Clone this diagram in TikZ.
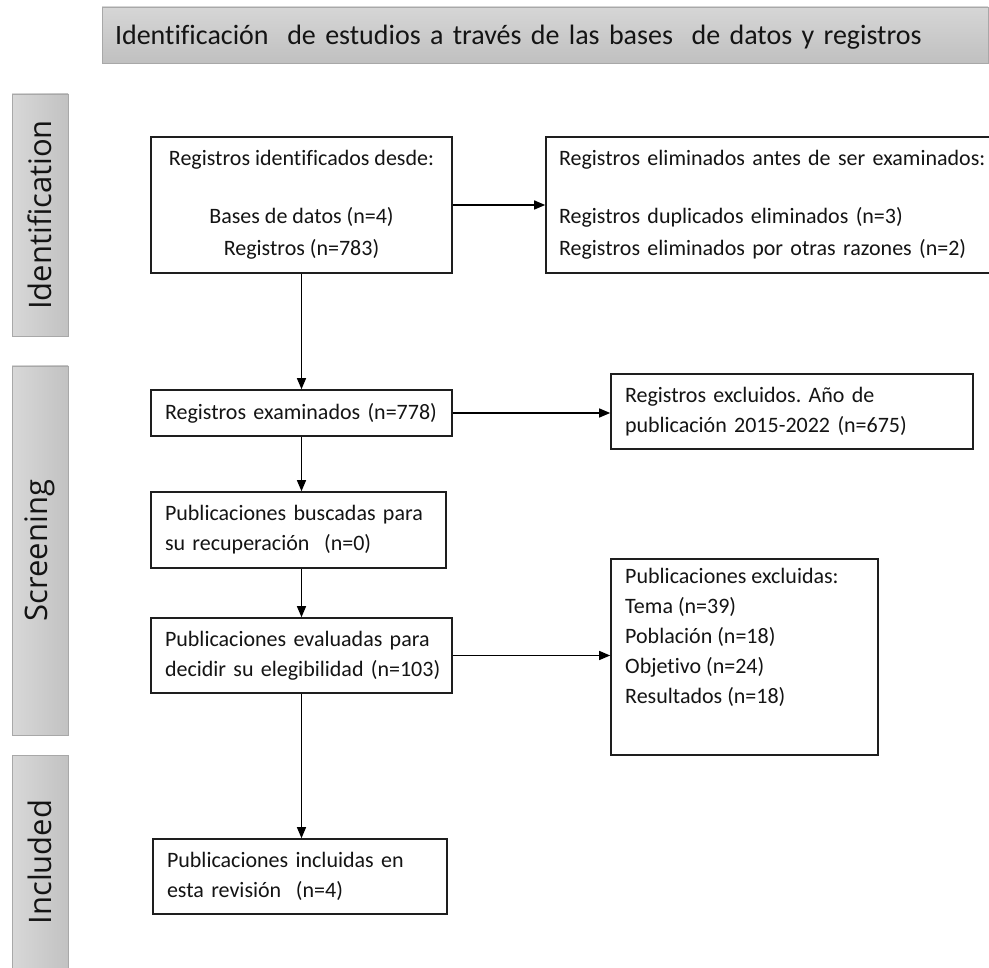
\documentclass[tikz,border=0pt]{standalone}
\usepackage{fontspec}
\setmainfont{Carlito}[Ligatures={NoCommon,TeX}]
\newfontfamily\barfont{Open Sans}
\usetikzlibrary{arrows.meta,calc}
\frenchspacing
\definecolor{boxline}{HTML}{1E1E1E}
\definecolor{txt}{HTML}{141414}
\definecolor{barline}{HTML}{A8A8A8}
\definecolor{barL}{HTML}{D8D8D8}
\definecolor{barR}{HTML}{C2C2C2}
\definecolor{banT}{HTML}{D6D6D6}
\definecolor{banB}{HTML}{C0C0C0}
\begin{document}
\begin{tikzpicture}[x=1pt,y=-1pt,
  box/.style={draw=boxline, line width=1.6pt, fill=white, inner sep=0pt,
    font=\fontsize{22}{30}\selectfont, text=txt},
  lbox/.style={box, align=left, inner xsep=14pt},
  arr/.style={-{Triangle[length=11pt,width=9pt]}, line width=1.4pt, draw=black},
  bar/.style={draw=barline, line width=0.8pt, left color=barL, right color=barR,
    minimum width=56pt, inner sep=0pt},
  bartext/.style={rotate=90, font=\barfont\fontsize{31}{36}\selectfont, text=txt, inner sep=0pt},
]
\clip (0,0) rectangle (989,968);
\fill[white] (0,0) rectangle (989,968);

% banner
\node[draw=barline, line width=0.8pt, top color=banT, bottom color=banB,
  minimum height=56pt, inner xsep=13pt, inner ysep=0pt, text width=860pt, align=left,
  text height=21pt, text depth=1pt, font=\fontsize{28}{34}\selectfont, text=txt]
  (banner) at (545,35) {Identificación\ \ de estudios a través de las bases\ \ de datos y registros};

% side bars
\node[bar, minimum height=242pt] (b1) at (40,215) {};
\node[bartext] (t1) at (b1) {Identification};
\node[bar, minimum height=369pt] (b2) at (40,550.5) {};
\node[bartext] (t2) at (b2) {Screening};
\node[bar, minimum height=220pt] (b3) at (40,865) {};
\node[bartext] (t3) at (40,862) {Included};

% boxes
\node[box, minimum width=301pt, minimum height=136pt, align=center,
  font=\fontsize{22}{32}\selectfont] (ident) at (301.5,205)
  {Registros identificados desde:\\[26pt]Bases de datos (n=4)\\Registros (n=783)};
\node[lbox, minimum height=136pt, text width=428pt, inner xsep=13pt,
  font=\fontsize{22}{32}\selectfont] (elim) at (773,205)
  {\mbox{Registros eliminados antes de ser examinados:}\\[26pt]\mbox{Registros duplicados eliminados (n=3)}\\\mbox{Registros eliminados por otras razones (n=2)}};
\node[lbox, text width=273pt, minimum height=46pt] (exam) at (301.5,413)
  {\mbox{Registros examinados (n=778)}};
\node[lbox, text width=334pt, minimum height=75pt] (excl1) at (792,411.5)
  {\mbox{Registros excluidos. Año de}\\\mbox{publicación 2015-2022 (n=675)}};
\node[lbox, text width=267pt, minimum height=76pt] (busc) at (298.5,530)
  {\mbox{Publicaciones buscadas para}\\\mbox{su recuperación\ \ (n=0)}};
\node[lbox, text width=273pt, minimum height=75pt] (eval) at (301.5,655.5)
  {\mbox{Publicaciones evaluadas para}\\\mbox{decidir su elegibilidad (n=103)}};
\node[box, minimum width=267pt, minimum height=196pt] (excl2) at (744.5,657) {};
\node[anchor=north west, align=left, inner sep=0pt, font=\fontsize{22}{30}\selectfont, text=txt]
  (excl2txt) at (625,568)
  {Publicaciones excluidas:\\Tema (n=39)\\Población (n=18)\\Objetivo (n=24)\\Resultados (n=18)};
\node[lbox, text width=266pt, minimum height=75pt] (incl) at (300,876.5)
  {\mbox{Publicaciones incluidas en}\\\mbox{esta revisión\ \ (n=4)}};

% arrows
\draw[arr] (ident.east) -- (elim.west);
\draw[arr] (ident.south) -- (exam.north);
\draw[arr] (exam.east) -- (exam.east -| excl1.west);
\draw[arr] (exam.south) -- (exam.south |- busc.north);
\draw[arr] (busc.south -| eval.north) -- (eval.north);
\draw[arr] (eval.east) -- (eval.east -| excl2.west);
\draw[arr] (eval.south) -- (eval.south |- incl.north);
\end{tikzpicture}
\end{document}
